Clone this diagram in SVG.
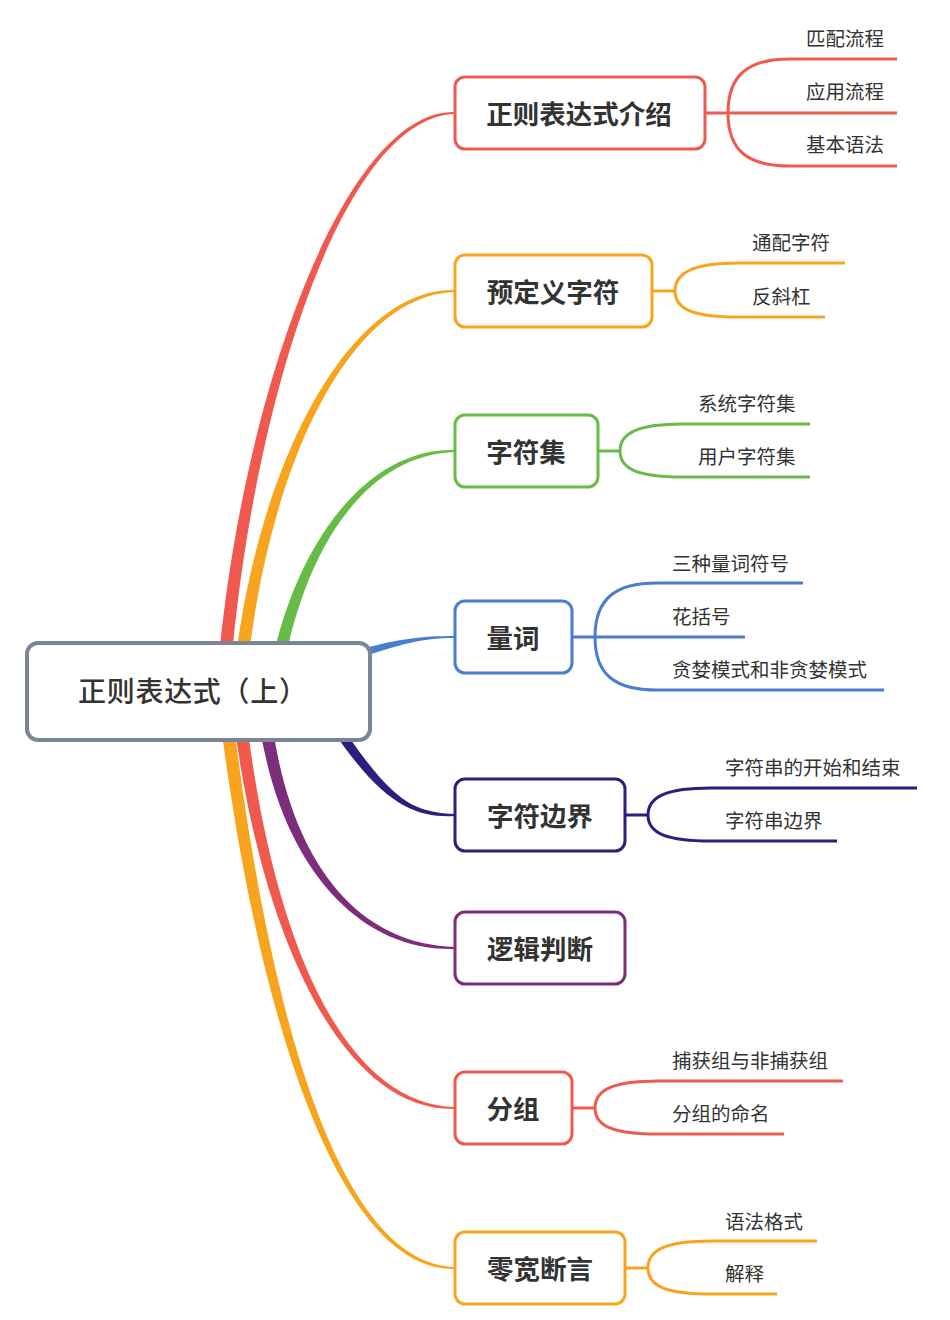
<svg xmlns="http://www.w3.org/2000/svg" width="950" height="1320" viewBox="0 0 950 1320">
<style>
.node{fill:#fff;stroke-width:3}
.root{fill:#fff;stroke:#7b8596;stroke-width:4}
.nt{font-family:"Noto Sans CJK SC","Noto Sans",sans-serif;font-size:26.5px;font-weight:700;fill:#333;text-anchor:middle;dominant-baseline:central}
.rt{font-family:"Noto Sans CJK SC","Noto Sans",sans-serif;font-size:28px;font-weight:500;fill:#333;dominant-baseline:central}
.st{font-family:"Noto Sans CJK SC","Noto Sans",sans-serif;font-size:19.5px;fill:#333;dominant-baseline:central}
.sb{fill:none;stroke-width:3}
.red{stroke:#ef5a4e}.org{stroke:#f7a51f}.grn{stroke:#67bb46}.blu{stroke:#4a7dcf}.nav{stroke:#2c1f7c}.pur{stroke:#7c2d7b}
</style>
<g id="connectors">
<path d="M215.5,700 C233.5,420 340,109 455,112 L455,114 C340,117 246.5,420 228.5,700 Z" fill="#f05a4e"/>
<path d="M231.5,700 C248.5,480 345,287 455,290 L455,292 C345,295 261.5,480 244.5,700 Z" fill="#f7a51f"/>
<path d="M265.5,700 C283.5,560 360,447 455,450 L455,452 C360,455 296.5,560 278.5,700 Z" fill="#67bb46"/>
<path d="M365,648 C400,639 420,636 455,636 L455,638 C420,638 400,645 365,656 Z" fill="#4a7dcf"/>
<path d="M329,725 C382,805 415,818 455,816 L455,814 C415,812 394,805 341,725 Z" fill="#2c1f7c"/>
<path d="M255.5,690 C268.5,850 350,952 455,949 L455,947 C350,944 281.5,850 268.5,690 Z" fill="#7c2d7b"/>
<path d="M229.5,680 C249.5,900 330,1112 455,1109 L455,1107 C330,1104 262.5,900 242.5,680 Z" fill="#f05a4e"/>
<path d="M215.5,680 C251.5,1000 335,1272 455,1269 L455,1267 C335,1264 264.5,1000 228.5,680 Z" fill="#f7a51f"/>
<path class="sb red" d="M705,113 H728 M728,113 C728,75 748,59 790,59 H897 M728,113 H897 M728,113 C728,151 748,166 790,166 H897"/>
<path class="sb org" d="M652,291 H675 M675,291 C675,272 695,263 738,263 H845 M675,291 C675,310 695,317 738,317 H825"/>
<path class="sb grn" d="M598,451 H620 M620,451 C620,432 640,424 683,424 H810 M620,451 C620,470 640,477 683,477 H810"/>
<path class="sb blu" d="M572,637 H595 M595,637 C595,599 615,583 657,583 H803 M595,637 H745 M595,637 C595,675 615,690 657,690 H884"/>
<path class="sb nav" d="M625,815 H648 M648,815 C648,796 668,788 711,788 H917 M648,815 C648,834 668,841 711,841 H837"/>
<path class="sb red" d="M572,1108 H595 M595,1108 C595,1089 615,1081 658,1081 H843 M595,1108 C595,1127 615,1134 658,1134 H784"/>
<path class="sb org" d="M625,1268 H648 M648,1268 C648,1249 668,1241 711,1241 H817 M648,1268 C648,1287 668,1294 711,1294 H777"/>
</g>
<g id="root">
<rect class="root" x="27" y="643" width="343" height="97" rx="11"/>
<text class="rt" x="78" y="690" textLength="229" lengthAdjust="spacing">正则表达式（上）</text>
</g>
<g id="n1">
<rect class="node red" x="455" y="77" width="250" height="72" rx="10"/>
<text class="nt" x="579" y="112">正则表达式介绍</text>
<text class="st" x="806" y="37">匹配流程</text>
<text class="st" x="806" y="90">应用流程</text>
<text class="st" x="806" y="143">基本语法</text>
</g>
<g id="n2">
<rect class="node org" x="455" y="255" width="197" height="72" rx="10"/>
<text class="nt" x="553" y="290">预定义字符</text>
<text class="st" x="752" y="241">通配字符</text>
<text class="st" x="752" y="295">反斜杠</text>
</g>
<g id="n3">
<rect class="node grn" x="455" y="415" width="143" height="72" rx="10"/>
<text class="nt" x="526" y="450">字符集</text>
<text class="st" x="698" y="402">系统字符集</text>
<text class="st" x="698" y="455">用户字符集</text>
</g>
<g id="n4">
<rect class="node blu" x="455" y="601" width="117" height="72" rx="10"/>
<text class="nt" x="513" y="636">量词</text>
<text class="st" x="672" y="562">三种量词符号</text>
<text class="st" x="672" y="615">花括号</text>
<text class="st" x="672" y="668">贪婪模式和非贪婪模式</text>
</g>
<g id="n5">
<rect class="node nav" x="455" y="779" width="170" height="72" rx="10"/>
<text class="nt" x="540" y="814">字符边界</text>
<text class="st" x="725" y="766">字符串的开始和结束</text>
<text class="st" x="725" y="819">字符串边界</text>
</g>
<g id="n6">
<rect class="node pur" x="455" y="912" width="170" height="72" rx="10"/>
<text class="nt" x="540" y="947">逻辑判断</text>
</g>
<g id="n7">
<rect class="node red" x="455" y="1072" width="117" height="72" rx="10"/>
<text class="nt" x="513" y="1107">分组</text>
<text class="st" x="672" y="1059">捕获组与非捕获组</text>
<text class="st" x="672" y="1112">分组的命名</text>
</g>
<g id="n8">
<rect class="node org" x="455" y="1232" width="170" height="72" rx="10"/>
<text class="nt" x="540" y="1267">零宽断言</text>
<text class="st" x="725" y="1220">语法格式</text>
<text class="st" x="725" y="1272">解释</text>
</g>
</svg>
